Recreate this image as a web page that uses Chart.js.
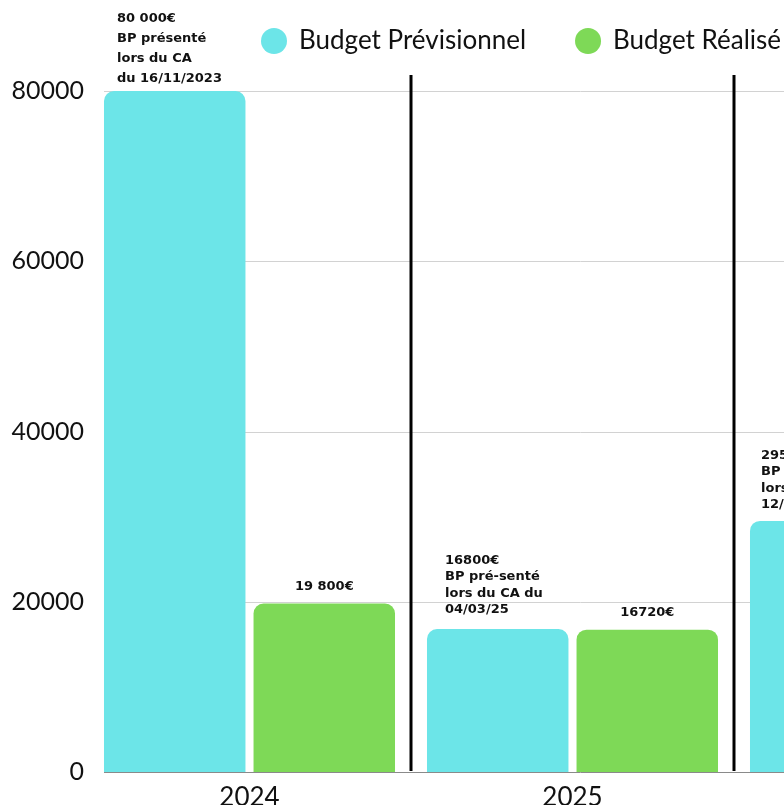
<!DOCTYPE html>
<html>
<head>
<meta charset="utf-8">
<script src="https://cdn.jsdelivr.net/npm/chart.js@4/dist/chart.umd.min.js"></script>
<style>
  html, body { margin: 0; padding: 0; background: #fff; overflow: hidden; }
  #wrap { width: 1060px; height: 805px; }
</style>
</head>
<body>
<div id="wrap"><canvas id="budget" width="1060" height="805"></canvas></div>
<script>
const years = ["2024", "2025", "2026"];
const previsionnel = [80000, 16800, 29500];
const realise = [19800, 16720, null];
const previsionnelNotes = [
  ["80 000€", "BP présenté", "lors du CA", "du 16/11/2023"],
  ["16800€", "BP pré-senté", "lors du CA du", "04/03/25"],
  ["29500€", "BP présenté", "lors du CA du", "12/11/2025"],
];
const realiseNotes = [["19 800€"], ["16720€"], []];
const yTicks = [0, 20000, 40000, 60000, 80000];

const cyan = "#6ce5e8";
const green = "#7ed957";
const ink = "#111111";
const catPct = 0.926;
const noteFont = "bold 13px 'DejaVu Sans'";

// little per-bar tweaks for the multi-line notes (offset from bar left, gap above bar, line height)
const noteLayout = [
  { dx: 13, gap: 12, lh: 20 },
  { dx: 18, gap: 19, lh: 16.5 },
  { dx: 11, gap: 16, lh: 16.5 },
];

const gridPlugin = {
  id: "grid",
  beforeDatasetsDraw(chart) {
    const { ctx, chartArea, scales } = chart;
    const first = chart.getDatasetMeta(0).data[0];
    const left = first.x - first.width / 2;
    ctx.save();
    yTicks.forEach(v => {
      const y = Math.round(scales.y.getPixelForValue(v)) + 0.5;
      ctx.strokeStyle = v === 0 ? "#8a8a8a" : "#d2d2d2";
      ctx.lineWidth = 1;
      ctx.beginPath();
      ctx.moveTo(left, y);
      ctx.lineTo(chartArea.right, y);
      ctx.stroke();
    });
    ctx.restore();
  },
  afterDatasetsDraw(chart) {
    const { ctx, chartArea, scales } = chart;
    ctx.save();
    ctx.strokeStyle = "#000";
    ctx.lineWidth = 3;
    for (let i = 0; i < years.length - 1; i++) {
      const x = (scales.x.getPixelForValue(i) + scales.x.getPixelForValue(i + 1)) / 2;
      ctx.beginPath();
      ctx.moveTo(x, chartArea.top - 16);
      ctx.lineTo(x, chartArea.bottom - 1);
      ctx.stroke();
    }
    ctx.restore();
  },
};

const notesPlugin = {
  id: "notes",
  afterDatasetsDraw(chart) {
    const ctx = chart.ctx;
    ctx.save();
    ctx.fillStyle = ink;
    ctx.font = noteFont;
    ctx.textBaseline = "middle";

    ctx.textAlign = "left";
    chart.getDatasetMeta(0).data.forEach((bar, i) => {
      const lines = previsionnelNotes[i];
      const lay = noteLayout[i];
      const x0 = bar.x - bar.width / 2 + lay.dx;
      const yLast = bar.y - lay.gap;
      lines.forEach((t, k) => {
        ctx.fillText(t, x0, yLast - (lines.length - 1 - k) * lay.lh);
      });
    });

    ctx.textAlign = "center";
    chart.getDatasetMeta(1).data.forEach((bar, i) => {
      const lines = realiseNotes[i];
      if (!lines.length || realise[i] == null) return;
      ctx.fillText(lines[0], bar.x, bar.y - 17);
    });
    ctx.restore();
  },
};

const legendPlugin = {
  id: "customLegend",
  afterDraw(chart) {
    const ctx = chart.ctx;
    ctx.save();
    ctx.font = "26px Lato";
    ctx.textBaseline = "middle";
    ctx.textAlign = "left";
    let x = 261;
    const y = 41;
    chart.data.datasets.forEach(ds => {
      ctx.fillStyle = ds.backgroundColor;
      ctx.beginPath();
      ctx.arc(x + 13, y, 13, 0, Math.PI * 2);
      ctx.fill();
      ctx.fillStyle = ink;
      ctx.fillText(ds.label, x + 38, y);
      x += 38 + ctx.measureText(ds.label).width + 49;
    });
    ctx.restore();
  },
};

new Chart(document.getElementById("budget"), {
  type: "bar",
  data: {
    labels: years,
    datasets: [
      {
        label: "Budget Prévisionnel",
        data: previsionnel,
        backgroundColor: cyan,
        borderRadius: { topLeft: 10, topRight: 10, bottomLeft: 0, bottomRight: 0 },
        borderSkipped: false,
        categoryPercentage: catPct,
        barPercentage: 0.946,
      },
      {
        label: "Budget Réalisé",
        data: realise,
        backgroundColor: green,
        borderRadius: { topLeft: 10, topRight: 10, bottomLeft: 0, bottomRight: 0 },
        borderSkipped: false,
        categoryPercentage: catPct,
        barPercentage: 0.946,
      },
    ],
  },
  options: {
    responsive: false,
    animation: false,
    devicePixelRatio: 1,
    layout: { padding: { top: 91, right: 3, left: 0, bottom: 0 } },
    plugins: {
      legend: { display: false },
      tooltip: { enabled: false },
    },
    scales: {
      x: {
        grid: { display: false, drawTicks: false },
        border: { display: false },
        ticks: { color: ink, font: { family: "Lato", size: 26 }, padding: 10 },
        afterFit(scale) { scale.height = 33; },
      },
      y: {
        min: 0,
        max: 80000,
        afterBuildTicks(scale) { scale.ticks = yTicks.map(v => ({ value: v })); },
        grid: { display: false, drawTicks: false },
        border: { display: false },
        ticks: {
          color: ink,
          font: { family: "Lato", size: 25 },
          padding: 4,
          callback: v => String(v),
        },
        afterFit(scale) { scale.width = 88; },
      },
    },
  },
  plugins: [gridPlugin, notesPlugin, legendPlugin],
});
</script>
</body>
</html>
